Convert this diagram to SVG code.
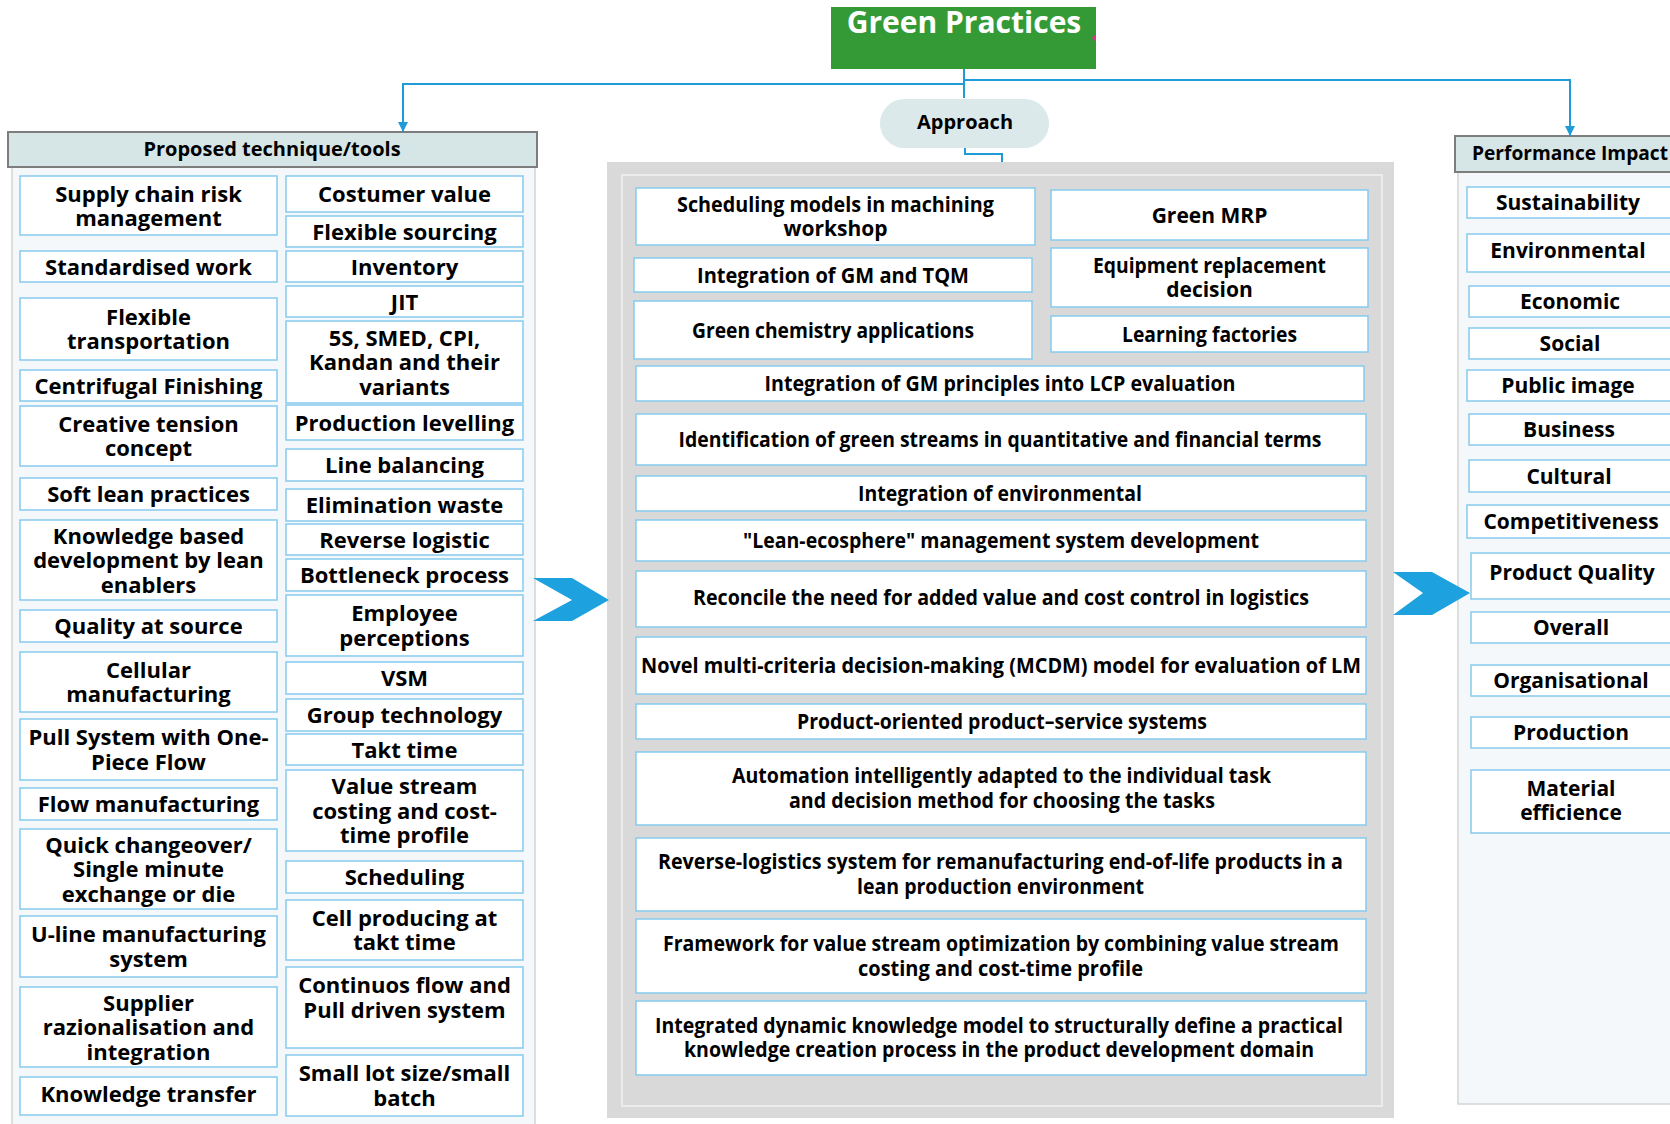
<svg xmlns="http://www.w3.org/2000/svg" width="1670" height="1124" viewBox="0 0 1670 1124">
<style>
.box{fill:#ffffff;stroke:#86caed;stroke-width:1.5}
.t{font-family:"Open Sans","Noto Sans","DejaVu Sans",sans-serif;font-weight:700;fill:#000;text-anchor:middle}
.l{font-size:22px}
.m{font-size:21px}
.r{font-size:21px}
.hdr{fill:#d6e6e6;stroke:#7d7d7d;stroke-width:2}
.panel{fill:#f5f8fa;stroke:#d4d4d4;stroke-width:1.5}
.conn{stroke:#1f9bd7;stroke-width:2;fill:none}
.chev{fill:#1ea1df}
</style>
<defs>
<marker id="arr" markerWidth="10" markerHeight="10" refX="10" refY="5" orient="auto" markerUnits="userSpaceOnUse">
<path d="M0,0 L10,5 L0,10 z" fill="#1f9bd7"/>
</marker>
</defs>
<rect width="1670" height="1124" fill="#ffffff"/>

<!-- Title -->
<g id="green-practices">
<rect x="831" y="7" width="265" height="62" fill="#349a36"/>
<text class="t" x="964" y="33" font-size="30" style="fill:#ffffff">Green Practices</text>
<polygon points="1092,38 1096,34 1096,42" fill="#e0308a"/>
</g>

<!-- Approach -->
<g id="approach">
<rect x="880" y="99" width="169" height="49" rx="24.5" fill="#dbe9ea"/>
<text class="t" x="965" y="129" font-size="20">Approach</text>
</g>

<!-- Left panel -->
<g id="proposed-panel">
<rect class="panel" x="12" y="167" width="523" height="960"/>
<rect class="hdr" x="8" y="132" width="529" height="35"/>
<text class="t" x="272" y="156" font-size="20">Proposed technique/tools</text>
</g>

<g id="col1">
<g id="n-supply"><rect class="box" x="20" y="176" width="257" height="59"/><text class="t l" x="148.5" y="201.5">Supply chain risk<tspan x="148.5" dy="24.5">management</tspan></text></g>
<g id="n-standard"><rect class="box" x="20" y="251" width="257" height="31"/><text class="t l" x="148.5" y="274.5">Standardised work</text></g>
<g id="n-flextrans"><rect class="box" x="20" y="298" width="257" height="62"/><text class="t l" x="148.5" y="324.75">Flexible<tspan x="148.5" dy="24.5">transportation</tspan></text></g>
<g id="n-centrifugal"><rect class="box" x="20" y="370" width="257" height="31"/><text class="t l" x="148.5" y="393.5">Centrifugal Finishing</text></g>
<g id="n-creative"><rect class="box" x="20" y="406" width="257" height="60"/><text class="t l" x="148.5" y="431.75">Creative tension<tspan x="148.5" dy="24.5">concept</tspan></text></g>
<g id="n-softlean"><rect class="box" x="20" y="478" width="257" height="32"/><text class="t l" x="148.5" y="502">Soft lean practices</text></g>
<g id="n-knowledge"><rect class="box" x="20" y="520" width="257" height="80"/><text class="t l" x="148.5" y="543.5">Knowledge based<tspan x="148.5" dy="24.5">development by lean</tspan><tspan x="148.5" dy="24.5">enablers</tspan></text></g>
<g id="n-quality"><rect class="box" x="20" y="610" width="257" height="32"/><text class="t l" x="148.5" y="634">Quality at source</text></g>
<g id="n-cellular"><rect class="box" x="20" y="652" width="257" height="60"/><text class="t l" x="148.5" y="677.75">Cellular<tspan x="148.5" dy="24.5">manufacturing</tspan></text></g>
<g id="n-pull"><rect class="box" x="20" y="719" width="257" height="61"/><text class="t l" x="148.5" y="745.25">Pull System with One-<tspan x="148.5" dy="24.5">Piece Flow</tspan></text></g>
<g id="n-flowman"><rect class="box" x="20" y="788" width="257" height="32"/><text class="t l" x="148.5" y="812">Flow manufacturing</text></g>
<g id="n-quick"><rect class="box" x="20" y="829" width="257" height="80"/><text class="t l" x="148.5" y="852.5">Quick changeover/<tspan x="148.5" dy="24.5">Single minute</tspan><tspan x="148.5" dy="24.5">exchange or die</tspan></text></g>
<g id="n-uline"><rect class="box" x="20" y="916" width="257" height="61"/><text class="t l" x="148.5" y="942.25">U-line manufacturing<tspan x="148.5" dy="24.5">system</tspan></text></g>
<g id="n-supplier"><rect class="box" x="20" y="987" width="257" height="80"/><text class="t l" x="148.5" y="1010.5">Supplier<tspan x="148.5" dy="24.5">razionalisation and</tspan><tspan x="148.5" dy="24.5">integration</tspan></text></g>
<g id="n-ktransfer"><rect class="box" x="20" y="1077" width="257" height="38"/><text class="t l" x="148.5" y="1102">Knowledge transfer</text></g>
</g>

<g id="col2">
<g id="n-costumer"><rect class="box" x="286" y="176" width="237" height="36"/><text class="t l" x="404.5" y="202">Costumer value</text></g>
<g id="n-flexsourcing"><rect class="box" x="286" y="216" width="237" height="31"/><text class="t l" x="404.5" y="239.5">Flexible sourcing</text></g>
<g id="n-inventory"><rect class="box" x="286" y="251" width="237" height="31"/><text class="t l" x="404.5" y="274.5">Inventory</text></g>
<g id="n-jit"><rect class="box" x="286" y="286" width="237" height="31"/><text class="t l" x="404.5" y="309.5">JIT</text></g>
<g id="n-5s"><rect class="box" x="286" y="321" width="237" height="82"/><text class="t l" x="404.5" y="345.5">5S, SMED, CPI,<tspan x="404.5" dy="24.5">Kandan and their</tspan><tspan x="404.5" dy="24.5">variants</tspan></text></g>
<g id="n-prodlevel"><rect class="box" x="286" y="405" width="237" height="35"/><text class="t l" x="404.5" y="430.5">Production levelling</text></g>
<g id="n-linebal"><rect class="box" x="286" y="449" width="237" height="32"/><text class="t l" x="404.5" y="473">Line balancing</text></g>
<g id="n-elim"><rect class="box" x="286" y="489" width="237" height="32"/><text class="t l" x="404.5" y="513">Elimination waste</text></g>
<g id="n-reverse"><rect class="box" x="286" y="524" width="237" height="31"/><text class="t l" x="404.5" y="547.5">Reverse logistic</text></g>
<g id="n-bottleneck"><rect class="box" x="286" y="559" width="237" height="32"/><text class="t l" x="404.5" y="583">Bottleneck process</text></g>
<g id="n-employee"><rect class="box" x="286" y="595" width="237" height="61"/><text class="t l" x="404.5" y="621.25">Employee<tspan x="404.5" dy="24.5">perceptions</tspan></text></g>
<g id="n-vsm"><rect class="box" x="286" y="662" width="237" height="32"/><text class="t l" x="404.5" y="686">VSM</text></g>
<g id="n-group"><rect class="box" x="286" y="699" width="237" height="32"/><text class="t l" x="404.5" y="723">Group technology</text></g>
<g id="n-takt"><rect class="box" x="286" y="734" width="237" height="31"/><text class="t l" x="404.5" y="757.5">Takt time</text></g>
<g id="n-vscosting"><rect class="box" x="286" y="770" width="237" height="81"/><text class="t l" x="404.5" y="794">Value stream<tspan x="404.5" dy="24.5">costing and cost-</tspan><tspan x="404.5" dy="24.5">time profile</tspan></text></g>
<g id="n-scheduling"><rect class="box" x="286" y="861" width="237" height="32"/><text class="t l" x="404.5" y="885">Scheduling</text></g>
<g id="n-cell"><rect class="box" x="286" y="900" width="237" height="60"/><text class="t l" x="404.5" y="925.75">Cell producing at<tspan x="404.5" dy="24.5">takt time</tspan></text></g>
<g id="n-continuos"><rect class="box" x="286" y="967" width="237" height="81"/><text class="t l" x="404.5" y="993">Continuos flow and<tspan x="404.5" dy="25">Pull driven system</tspan></text></g>
<g id="n-smalllot"><rect class="box" x="286" y="1055" width="237" height="61"/><text class="t l" x="404.5" y="1081.25">Small lot size/small<tspan x="404.5" dy="24.5">batch</tspan></text></g>
</g>

<!-- Middle panel -->
<g id="approach-panel">
<rect x="607" y="162" width="787" height="956" fill="#d9d9d9"/>
<rect x="622" y="175" width="760" height="931" fill="none" stroke="#ececec" stroke-width="2"/>
</g>

<g id="middle">
<g id="m-sched"><rect class="box" x="636" y="188" width="399" height="57"/><text class="t m" x="835.5" y="212"><tspan textLength="317" lengthAdjust="spacingAndGlyphs">Scheduling models in machining</tspan><tspan x="835.5" dy="24">workshop</tspan></text></g>
<g id="m-greenmrp"><rect class="box" x="1051" y="190" width="317" height="50"/><text class="t m" x="1209.5" y="222.5">Green MRP</text></g>
<g id="m-gmtqm"><rect class="box" x="634" y="258" width="398" height="34"/><text class="t m" x="833" y="282.5" textLength="272" lengthAdjust="spacingAndGlyphs">Integration of GM and TQM</text></g>
<g id="m-equip"><rect class="box" x="1051" y="248" width="317" height="59"/><text class="t m" x="1209.5" y="273"><tspan textLength="233" lengthAdjust="spacingAndGlyphs">Equipment replacement</tspan><tspan x="1209.5" dy="24">decision</tspan></text></g>
<g id="m-chem"><rect class="box" x="634" y="301" width="398" height="58"/><text class="t m" x="833" y="337.5" textLength="282" lengthAdjust="spacingAndGlyphs">Green chemistry applications</text></g>
<g id="m-learning"><rect class="box" x="1051" y="316" width="317" height="36"/><text class="t m" x="1209.5" y="341.5" textLength="175" lengthAdjust="spacingAndGlyphs">Learning factories</text></g>
<g id="m-lcp"><rect class="box" x="636" y="366" width="728" height="35"/><text class="t m" x="1000" y="391" textLength="471" lengthAdjust="spacingAndGlyphs">Integration of GM principles into LCP evaluation</text></g>
<g id="m-ident"><rect class="box" x="636" y="414" width="730" height="51"/><text class="t m" x="1000" y="447" textLength="643" lengthAdjust="spacingAndGlyphs">Identification of green streams in quantitative and financial terms</text></g>
<g id="m-env"><rect class="box" x="636" y="476" width="730" height="35"/><text class="t m" x="1000" y="501" textLength="284" lengthAdjust="spacingAndGlyphs">Integration of environmental</text></g>
<g id="m-eco"><rect class="box" x="636" y="520" width="730" height="41"/><text class="t m" x="1001" y="548" textLength="516" lengthAdjust="spacingAndGlyphs">"Lean-ecosphere" management system development</text></g>
<g id="m-reconcile"><rect class="box" x="636" y="571" width="730" height="56"/><text class="t m" x="1001" y="605" textLength="616" lengthAdjust="spacingAndGlyphs">Reconcile the need for added value and cost control in logistics</text></g>
<g id="m-novel"><rect class="box" x="636" y="637" width="730" height="57"/><text class="t m" x="1001" y="673" textLength="720" lengthAdjust="spacingAndGlyphs">Novel multi-criteria decision-making (MCDM) model for evaluation of LM</text></g>
<g id="m-pss"><rect class="box" x="636" y="704" width="730" height="35"/><text class="t m" x="1002" y="729" textLength="410" lengthAdjust="spacingAndGlyphs">Product-oriented product–service systems</text></g>
<g id="m-auto"><rect class="box" x="636" y="752" width="730" height="73"/><text class="t m" x="1001.5" y="783"><tspan textLength="539" lengthAdjust="spacingAndGlyphs">Automation intelligently adapted to the individual task</tspan><tspan x="1002" dy="25" textLength="426" lengthAdjust="spacingAndGlyphs">and decision method for choosing the tasks</tspan></text></g>
<g id="m-revlog"><rect class="box" x="636" y="838" width="730" height="73"/><text class="t m" x="1000.5" y="869"><tspan textLength="685" lengthAdjust="spacingAndGlyphs">Reverse-logistics system for remanufacturing end-of-life products in a</tspan><tspan x="1000.5" dy="24.5" textLength="287" lengthAdjust="spacingAndGlyphs">lean production environment</tspan></text></g>
<g id="m-framework"><rect class="box" x="636" y="919" width="730" height="74"/><text class="t m" x="1001" y="951"><tspan textLength="676" lengthAdjust="spacingAndGlyphs">Framework for value stream optimization by combining value stream</tspan><tspan x="1000.5" dy="24.5" textLength="285" lengthAdjust="spacingAndGlyphs">costing and cost-time profile</tspan></text></g>
<g id="m-integrated"><rect class="box" x="636" y="1001" width="730" height="74"/><text class="t m" x="999" y="1032.5"><tspan textLength="688" lengthAdjust="spacingAndGlyphs">Integrated dynamic knowledge model to structurally define a practical</tspan><tspan x="999" dy="24.5" textLength="630" lengthAdjust="spacingAndGlyphs">knowledge creation process in the product development domain</tspan></text></g>
</g>

<!-- Right panel -->
<g id="impact-panel">
<rect class="panel" x="1458" y="172" width="260" height="932"/>
<rect class="hdr" x="1455" y="136" width="260" height="36"/>
<text class="t" x="1472" y="160" font-size="20" style="text-anchor:start" textLength="196" lengthAdjust="spacingAndGlyphs">Performance Impact</text>
</g>

<g id="col3">
<g id="r-sust"><rect class="box" x="1467" y="187" width="240" height="31"/><text class="t r" x="1568" y="210">Sustainability</text></g>
<g id="r-env"><rect class="box" x="1467" y="234" width="240" height="38"/><text class="t r" x="1568" y="257.5">Environmental</text></g>
<g id="r-econ"><rect class="box" x="1469" y="286" width="240" height="31"/><text class="t r" x="1570" y="309">Economic</text></g>
<g id="r-social"><rect class="box" x="1469" y="328" width="240" height="31"/><text class="t r" x="1570" y="351">Social</text></g>
<g id="r-public"><rect class="box" x="1467" y="370" width="240" height="31"/><text class="t r" x="1568" y="393">Public image</text></g>
<g id="r-business"><rect class="box" x="1469" y="414" width="240" height="31"/><text class="t r" x="1569" y="437">Business</text></g>
<g id="r-cultural"><rect class="box" x="1469" y="460" width="240" height="32"/><text class="t r" x="1569" y="483.5">Cultural</text></g>
<g id="r-compet"><rect class="box" x="1467" y="505" width="240" height="33"/><text class="t r" x="1571" y="529">Competitiveness</text></g>
<g id="r-prodq"><rect class="box" x="1471" y="553" width="240" height="46"/><text class="t r" x="1572" y="579.5">Product Quality</text></g>
<g id="r-overall"><rect class="box" x="1471" y="612" width="240" height="31"/><text class="t r" x="1571" y="635">Overall</text></g>
<g id="r-org"><rect class="box" x="1471" y="665" width="240" height="31"/><text class="t r" x="1571" y="688">Organisational</text></g>
<g id="r-prod"><rect class="box" x="1471" y="717" width="240" height="31"/><text class="t r" x="1571" y="740">Production</text></g>
<g id="r-material"><rect class="box" x="1471" y="770" width="240" height="63"/><text class="t r" x="1571" y="795.5">Material<tspan x="1571" dy="24">efficience</tspan></text></g>
</g>

<!-- Connectors -->
<g id="connectors">
<path class="conn" d="M964,69 V98"/>
<path class="conn" d="M964,84 H403 V132" marker-end="url(#arr)"/>
<path class="conn" d="M964,80 H1570 V136" marker-end="url(#arr)"/>
<path class="conn" d="M965,148 V154 H1002 V162"/>
<polygon class="chev" points="533,578 572,578 609,600 572,621 533,621 572,600"/>
<polygon class="chev" points="1393,572 1432,572 1470,593 1432,615 1393,615 1423,593"/>
</g>
</svg>
